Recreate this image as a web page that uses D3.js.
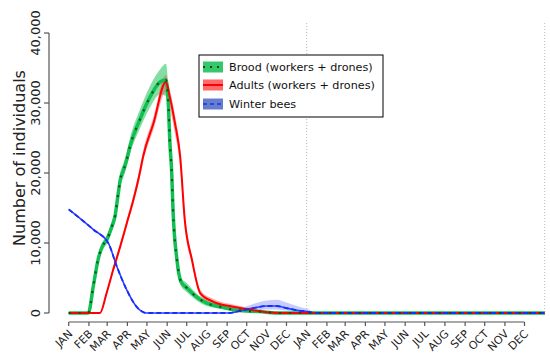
<!DOCTYPE html>
<html><head><meta charset="utf-8">
<script src="https://cdn.jsdelivr.net/npm/d3@7"></script>
<style>body{margin:0;background:#fff}svg{display:block;font-family:"DejaVu Sans",sans-serif}</style>
</head><body><svg id="c" width="550" height="355"></svg>
<script>
const monthLabels = ["JAN","FEB","MAR","APR","MAY","JUN","JUL","AUG","SEP","OCT","NOV","DEC"];
const monthStartDays = [0,31,59,90,120,151,181,212,243,273,304,334];
const yTicks = [0,10000,20000,30000,40000];

const broodDays = [0,30,38,45,52,58,66,71,76,79,84,89,94,109,125,140,149,153,155,158,160,166,172,181,196,212,232,258,293,319,730];
const broodMean = [0,0,4000,7600,9600,10400,12300,13800,17100,19000,20400,21900,23800,27600,30900,33000,33300,29500,24700,20000,14700,7600,4500,3600,2300,1400,900,400,200,0,0];
const broodLow  = [0,0,3600,7000,9000,9800,11600,13000,16200,18000,19400,20900,22700,26300,29400,31200,31000,28000,23000,18500,13500,6800,3900,3000,1800,1000,600,200,50,0,0];
const broodHigh = [0,0,4400,8200,10200,11000,13000,14600,18000,20000,21400,23000,25000,29000,32500,34800,35600,31500,26500,21500,16000,8400,5100,4300,2800,1800,1200,650,350,0,0];

const adultDays = [0,48,58,68,79,89,99,109,114,130,149,155,163,171,178,189,202,222,252,283,304,324,730];
const adultMean = [0,0,2800,6100,9500,12800,16100,20000,22300,27100,33000,30900,27100,22300,13300,7600,2800,1600,900,400,100,0,0];
const adultLow  = [0,0,2500,5700,9000,12300,15500,19300,21500,26200,31500,29300,25600,20800,12300,7000,2400,1300,650,250,50,0,0];
const adultHigh = [0,0,3100,6500,10000,13300,16700,20700,23100,28000,34000,32000,28300,23500,14300,8200,3300,2000,1200,600,200,0,0];

const winterDays = [0,38,61,74,89,104,120,245,263,283,304,319,334,350,365,380,730];
const winterMean = [14800,11900,9950,6600,3300,900,0,0,300,700,1000,1000,700,400,200,0,0];
const winterLow  = [14800,11900,9950,6600,3300,900,0,0,100,300,500,500,350,150,50,0,0];
const winterHigh = [14800,11900,9950,6600,3300,900,0,0,600,1300,1800,1900,1500,1000,600,100,0];

const legendLabels = ["Brood (workers + drones)","Adults (workers + drones)","Winter bees"];

const svg = d3.select("#c");
const x = d3.scaleLinear().domain([0,730]).range([68.7,544.7]);
const y = d3.scaleLinear().domain([0,40000]).range([313,33]);

// vertical dotted year separators
svg.selectAll("line.sep").data([365,730]).enter().append("line")
  .attr("x1",d=>x(d)).attr("x2",d=>x(d)).attr("y1",23).attr("y2",316)
  .attr("stroke","#bbb").attr("stroke-width",1).attr("stroke-dasharray","1,2");

function series(days, mean, low, high){ return days.map((d,i)=>({d, m:mean[i], lo:low[i], hi:high[i]})); }
const brood = series(broodDays,broodMean,broodLow,broodHigh);
const adult = series(adultDays,adultMean,adultLow,adultHigh);
const winter = series(winterDays,winterMean,winterLow,winterHigh);

const area = d3.area().x(d=>x(d.d)).y0(d=>y(d.lo)).y1(d=>y(d.hi)).curve(d3.curveMonotoneX);
const line = d3.line().x(d=>x(d.d)).y(d=>y(d.m)).curve(d3.curveMonotoneX);

// bands
svg.append("path").datum(brood).attr("d",area).attr("fill","#1fc25a").attr("fill-opacity",0.55);
svg.append("path").datum(adult).attr("d",area).attr("fill","#ff4a4a").attr("fill-opacity",0.45);
svg.append("path").datum(winter).attr("d",area).attr("fill","#7080ff").attr("fill-opacity",0.4);

// underlay solid lines
svg.append("path").datum(brood).attr("d",line).attr("fill","none").attr("stroke","#10c050").attr("stroke-width",3.5);
svg.append("path").datum(winter).attr("d",line).attr("fill","none").attr("stroke","#3a3aff").attr("stroke-width",1.6);
svg.append("path").datum(adult).attr("d",line).attr("fill","none").attr("stroke","#ff0000").attr("stroke-width",2);
// mean lines
svg.append("path").datum(winter).attr("d",line).attr("fill","none").attr("stroke","#1030ff").attr("stroke-width",1.8).attr("stroke-dasharray","5,3");
svg.append("path").datum(brood).attr("d",line).attr("fill","none").attr("stroke","#0d4d22").attr("stroke-width",2.2).attr("stroke-dasharray","2,8");

// axes
const tickDays = monthStartDays.concat(monthStartDays.map(d=>d+365));
const tickLabels = monthLabels.concat(monthLabels);
const gx = svg.append("g").attr("transform","translate(0,322)");
gx.append("line").attr("x1",x(0)).attr("x2",x(tickDays[tickDays.length-1])).attr("stroke","#555").attr("stroke-width",1.2);
gx.selectAll("line.t").data(tickDays).enter().append("line")
  .attr("x1",d=>x(d)).attr("x2",d=>x(d)).attr("y1",0).attr("y2",4).attr("stroke","#555").attr("stroke-width",1.2);
gx.selectAll("text").data(tickDays).enter().append("text")
  .attr("transform",(d)=>`translate(${x(d)+4.5},${12.5}) rotate(-45)`)
  .attr("text-anchor","end").attr("font-size",11).attr("fill","#222")
  .text((d,i)=>tickLabels[i]);

const gy = svg.append("g").attr("transform","translate(49,0)");
gy.append("line").attr("y1",y(0)).attr("y2",y(40000)).attr("stroke","#555").attr("stroke-width",1.2);
gy.selectAll("line.t").data(yTicks).enter().append("line")
  .attr("x1",-5).attr("x2",0).attr("y1",d=>y(d)).attr("y2",d=>y(d)).attr("stroke","#555").attr("stroke-width",1.2);
gy.selectAll("text").data(yTicks).enter().append("text")
  .attr("transform",d=>`translate(-9,${y(d)}) rotate(-90)`)
  .attr("text-anchor","middle").attr("font-size",13).attr("fill","#222")
  .text(d=>d3.format(",")(d));

svg.append("text").attr("transform","translate(25,158) rotate(-90)")
  .attr("text-anchor","middle").attr("font-size",16).attr("fill","#222").text("Number of individuals");

// legend
const lg = svg.append("g");
lg.append("rect").attr("x",199).attr("y",55).attr("width",184).attr("height",62).attr("fill","#fff").attr("stroke","#000").attr("stroke-width",1);
const legYs = [67,85,104];
const patchFill = ["#1fc25a","#ff5a5a","#5a6ec8"];
const lineCol = ["#0d4d22","#ff0000","#1a50d8"];
const dash = ["2,5",null,"4,3"];
legYs.forEach((ly,i)=>{
  lg.append("rect").attr("x",203).attr("y",ly-5.5).attr("width",20).attr("height",11).attr("fill",patchFill[i]).attr("fill-opacity",0.9);
  const l = lg.append("line").attr("x1",203).attr("x2",223).attr("y1",ly).attr("y2",ly).attr("stroke",lineCol[i]).attr("stroke-width",2);
  if(dash[i]) l.attr("stroke-dasharray",dash[i]);
  lg.append("text").attr("x",229).attr("y",ly+4).attr("font-size",11.2).attr("fill","#111").text(legendLabels[i]);
});
</script></body></html>
